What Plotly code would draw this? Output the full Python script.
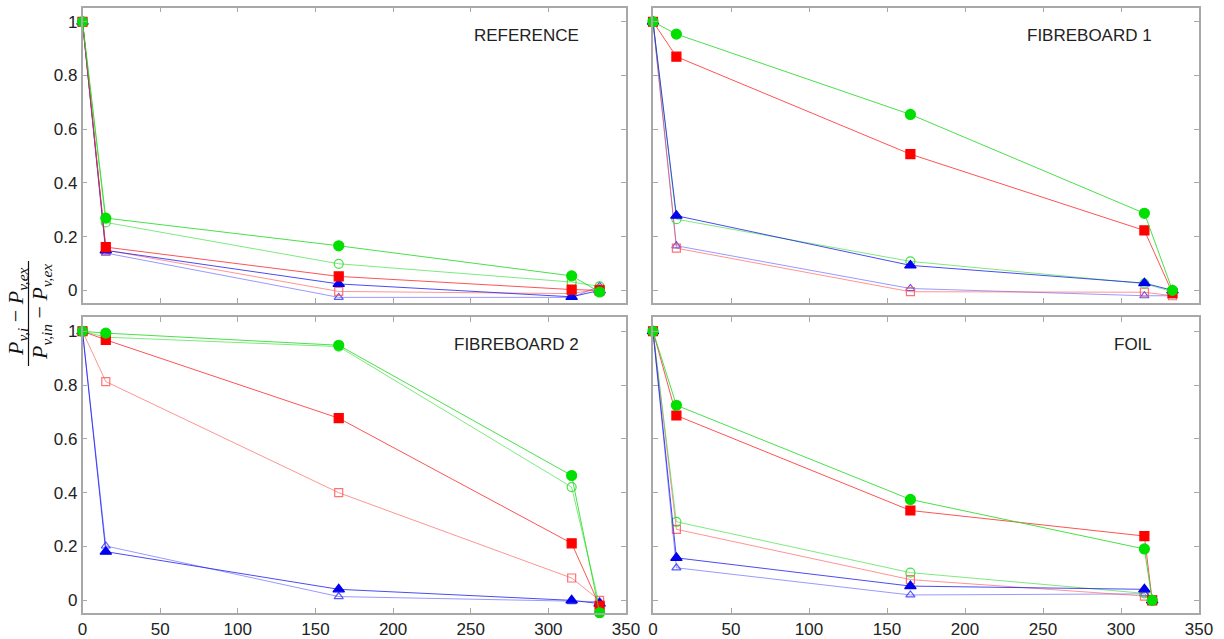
import plotly.graph_objects as go

# ---------------- data ----------------
x_std = [0, 15, 165, 315, 333]
x_foil = [0, 15, 165, 315, 320]

panel_titles = ["REFERENCE", "FIBREBOARD 1", "FIBREBOARD 2", "FOIL"]

ref_G = [1, 0.269, 0.166, 0.054, -0.006]
ref_g = [1, 0.253, 0.099, 0.031, 0.015]
ref_R = [1, 0.161, 0.052, 0.003, 0.0]
ref_r = [1, 0.150, -0.004, -0.012, 0.005]
ref_B = [1, 0.149, 0.024, -0.024, 0.0]
ref_b = [1, 0.139, -0.026, -0.026, 0.015]

fb1_G = [1, 0.954, 0.655, 0.287, 0.0]
fb1_g = [1, 0.265, 0.108, 0.025, -0.005]
fb1_R = [1, 0.870, 0.507, 0.223, -0.01]
fb1_r = [1, 0.157, -0.005, -0.007, -0.02]
fb1_B = [1, 0.278, 0.093, 0.027, 0.0]
fb1_b = [1, 0.166, 0.007, -0.02, -0.02]

fb2_G = [1, 0.993, 0.948, 0.464, -0.046]
fb2_g = [1, 0.978, 0.943, 0.421, -0.02]
fb2_R = [1, 0.968, 0.677, 0.212, -0.02]
fb2_r = [1, 0.813, 0.400, 0.083, 0.0]
fb2_B = [1, 0.181, 0.041, 0.0, -0.012]
fb2_b = [1, 0.202, 0.014, -0.005, -0.005]

foil_G = [1, 0.725, 0.375, 0.191, 0.0]
foil_g = [1, 0.292, 0.103, 0.026, 0.0]
foil_R = [1, 0.687, 0.334, 0.239, 0.0]
foil_r = [1, 0.264, 0.077, 0.016, 0.0]
foil_B = [1, 0.158, 0.053, 0.041, 0.0]
foil_b = [1, 0.121, 0.020, 0.024, 0.0]

panels = [
    (x_std, [ref_b, ref_r, ref_g, ref_B, ref_R, ref_G]),
    (x_std, [fb1_b, fb1_r, fb1_g, fb1_B, fb1_R, fb1_G]),
    (x_std, [fb2_b, fb2_r, fb2_g, fb2_B, fb2_R, fb2_G]),
    (x_foil, [foil_b, foil_r, foil_g, foil_B, foil_R, foil_G]),
]

# styles: open blue, open red, open green, filled blue, filled red, filled green
styles = [
    dict(symbol="triangle-up-open", mcol="rgba(60,60,255,0.85)", lcol="rgba(70,70,255,0.55)", size=8),
    dict(symbol="square-open", mcol="rgba(255,90,90,0.85)", lcol="rgba(255,60,60,0.55)", size=8),
    dict(symbol="circle-open", mcol="rgba(40,220,40,0.85)", lcol="rgba(40,220,40,0.6)", size=9),
    dict(symbol="triangle-up", mcol="#0000ee", lcol="rgba(30,30,240,0.8)", size=10),
    dict(symbol="square", mcol="#ff0000", lcol="rgba(255,40,40,0.8)", size=9),
    dict(symbol="circle", mcol="#00e000", lcol="rgba(40,220,40,0.85)", size=10),
]

W, H = 1224, 639
xdom = [[82.5 / W, 626 / W], [653 / W, 1199 / W]]
ydom_top = [1 - 303 / H, 1 - 7.5 / H]
ydom_bot = [1 - 613 / H, 1 - 317 / H]
ydoms = [ydom_top, ydom_top, ydom_bot, ydom_bot]
xdoms = [xdom[0], xdom[1], xdom[0], xdom[1]]

fig = go.Figure()

FONT = "Liberation Sans, Arial, sans-serif"
frame = "#a8a8a8"

for i, (xs, series) in enumerate(panels):
    k = i + 1
    xa = "x" if k == 1 else f"x{k}"
    ya = "y" if k == 1 else f"y{k}"
    for st, ys in zip(styles, series):
        fig.add_trace(go.Scatter(
            x=xs, y=ys, xaxis=xa, yaxis=ya, mode="lines+markers",
            line=dict(color=st["lcol"], width=1),
            marker=dict(symbol=st["symbol"], size=st["size"], color=st["mcol"],
                        line=dict(color=st["mcol"], width=1.2)),
            showlegend=False, hoverinfo="skip", cliponaxis=False))
    axcommon = dict(showline=True, linecolor=frame, linewidth=1.5, mirror="ticks",
                    ticks="inside", ticklen=5, tickcolor=frame, showgrid=False,
                    zeroline=False, tickfont=dict(family=FONT, size=17, color="#222"),
                    automargin=False)
    fig.update_layout(**{
        ("xaxis" if k == 1 else f"xaxis{k}"): dict(
            domain=xdoms[i], range=[0, 350], tickvals=[0, 50, 100, 150, 200, 250, 300, 350],
            showticklabels=(i >= 2), anchor=ya, **axcommon),
        ("yaxis" if k == 1 else f"yaxis{k}"): dict(
            domain=ydoms[i], range=[-0.047, 1.053], tickvals=[0, 0.2, 0.4, 0.6, 0.8, 1],
            showticklabels=(i % 2 == 0), anchor=xa, **axcommon),
    })
    fig.add_annotation(x=321, y=0.95, xref=xa, yref=ya, text=panel_titles[i],
                       showarrow=False, xanchor="right", yanchor="middle",
                       font=dict(family=FONT, size=17, color="#222"))

# y-axis label as a rotated fraction
SERIF = "Liberation Serif, DejaVu Serif, serif"
num = "<i>P</i><sub><i>v,i</i></sub> \u2212 <i>P</i><sub><i>v,ex</i></sub>"
den = "<i>P</i><sub><i>v,in</i></sub> \u2212 <i>P</i><sub><i>v,ex</i></sub>"
fig.add_annotation(x=17 / W, y=1 - 312 / H, xref="paper", yref="paper", text=num,
                   textangle=-90, showarrow=False, xanchor="center", yanchor="middle",
                   font=dict(family=SERIF, size=22, color="#111"))
fig.add_annotation(x=41 / W, y=1 - 312 / H, xref="paper", yref="paper", text=den,
                   textangle=-90, showarrow=False, xanchor="center", yanchor="middle",
                   font=dict(family=SERIF, size=22, color="#111"))
fig.add_shape(type="line", xref="paper", yref="paper",
              x0=28.5 / W, x1=28.5 / W, y0=1 - 261 / H, y1=1 - 366 / H,
              line=dict(color="#111", width=1.2))

fig.update_layout(width=W, height=H, margin=dict(l=0, r=0, t=0, b=0),
                  paper_bgcolor="white", plot_bgcolor="white")

fig.write_html("out.html", config={"displayModeBar": False},
               post_script="document.body.style.margin='0px';document.body.style.overflow='hidden';")
